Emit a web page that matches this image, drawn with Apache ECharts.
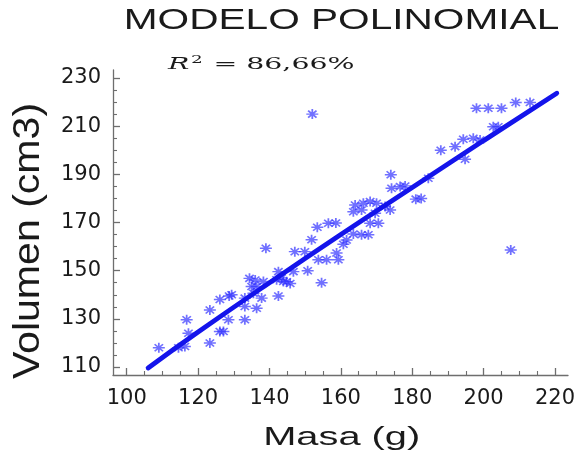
<!DOCTYPE html>
<html>
<head>
<meta charset="utf-8">
<script src="https://cdn.jsdelivr.net/npm/echarts@6/dist/echarts.min.js"></script>
<style>
html,body{margin:0;padding:0;background:#fff;}
#chart{width:581px;height:461px;}
</style>
</head>
<body>
<div id="chart"></div>
<script>
// ---- data ----
var massX = [109,114.5,116.3,116.8,117.3,123.3,123.3,126.1,128.7,126.1,127.1,128.5,133.1,133.1,129.4,136.4,133.1,137.8,134.4,136,135,136.4,135.5,138.3,139,142,143.9,142.5,142.5,143.4,144.8,145.8,146.7,147.1,149.9,150.7,151.8,153.4,156.5,158.6,153.7,156,159.3,154.6,152,158.8,160.7,161.6,163.5,165.8,167.7,168.2,170.5,163.5,165.8,169.6,164,166.3,168.2,170,172.4,173.8,174,174.2,176.6,178,181,182.5,184.5,188,192,194.3,197.1,199,194.8,198,201.3,205,209,213,202.7,204.1,207.6];
var volY  = [118,118,118.5,129.6,124,120,133.7,138,139.5,124.7,124.7,129.6,129.6,135.1,140,134.4,138.6,138.6,146.8,146.1,143.4,143.4,140.6,145.5,159.3,146.2,145.5,149.6,139.5,147,145.4,144.7,149.6,157.9,157.9,150,162.8,168,169.7,169.8,154.5,154.5,154.5,145,215,157.3,161,162.7,165.2,164.9,164.9,169.7,169.7,174.5,175.2,173.8,177.3,178,178.7,178,176.6,175.2,189.8,184.2,184.9,185.2,179.7,180,188.4,200,201.5,204.6,205,204.3,196.3,217.4,217.4,217.4,219.8,219.8,209.8,209.8,158.6];
var fitX = [106,120,140,160,180,200,220.5];
var fitY = [109.6,124.5,145,165,184.5,204,223.7];
var xMajor = [100,120,140,160,180,200,220];
var yMajor = [110,130,150,170,190,210,230];
var xMinor = [105,110,115,125,130,135,145,150,155,165,170,175,185,190,195,205,210,215];
var yMinor = [115,120,125,135,140,145,155,160,165,175,180,185,195,200,205,215,220,225];
var titleText = 'MODELO POLINOMIAL';
var xName = 'Masa (g)';
var yName = 'Volumen (cm3)';

var scatterData = massX.map(function(v,i){return [v, volY[i]];});
var fitData = fitX.map(function(v,i){return [v, fitY[i]];});

var axisColor = '#6e6e6e';
var labelFont = {fontFamily:'DejaVu Sans', fontSize:21, color:'#1a1a1a'};
var xMin = 96.16, xMax = 223.64, yMin = 106.68, yMax = 233.32;

var chart = echarts.init(document.getElementById('chart'), null, {renderer:'canvas'});
var option = {
  backgroundColor:'#ffffff',
  animation:false,
  grid:{left:113, right:13, top:70, bottom:86, containLabel:false, outerBoundsMode:'none'},
  xAxis:[{
    type:'value', min:xMin, max:xMax, position:'bottom',
    axisLine:{show:true, lineStyle:{color:axisColor, width:1.3}},
    axisTick:{show:true, inside:true, length:7, customValues:xMajor, lineStyle:{color:axisColor, width:1.3}},
    axisLabel:Object.assign({show:true, margin:13, customValues:xMajor}, labelFont),
    splitLine:{show:false}
  },{
    type:'value', min:xMin, max:xMax, position:'bottom', gridIndex:0,
    axisLine:{show:false},
    axisTick:{show:true, inside:true, length:4, customValues:xMinor, lineStyle:{color:axisColor, width:1.1}},
    axisLabel:{show:false},
    splitLine:{show:false}
  }],
  yAxis:[{
    type:'value', min:yMin, max:yMax, position:'left',
    axisLine:{show:true, lineStyle:{color:axisColor, width:1.3}},
    axisTick:{show:true, inside:true, length:7, customValues:yMajor, lineStyle:{color:axisColor, width:1.3}},
    axisLabel:Object.assign({show:true, margin:12, customValues:yMajor}, labelFont),
    splitLine:{show:false}
  },{
    type:'value', min:yMin, max:yMax, position:'left', gridIndex:0,
    axisLine:{show:false},
    axisTick:{show:true, inside:true, length:4, customValues:yMinor, lineStyle:{color:axisColor, width:1.1}},
    axisLabel:{show:false},
    splitLine:{show:false}
  }],
  graphic:[
    {type:'text', x:341.5, y:21, scaleX:1.40, scaleY:1,
      style:{text:titleText, font:'29px "Liberation Sans", Arial, sans-serif', fill:'#1a1a1a',
        align:'center', verticalAlign:'middle', textAlign:'center', textVerticalAlign:'middle'}},
    {type:'text', x:168, y:65, scaleX:1.67, scaleY:1,
      style:{text:'{r|R}{s|2}{n| = 86,66%}', fill:'#1a1a1a', align:'left', verticalAlign:'middle', textAlign:'left', textVerticalAlign:'middle',
        rich:{
          r:{fontFamily:'DejaVu Serif', fontStyle:'italic', fontSize:17, lineHeight:20, fill:'#1a1a1a'},
          s:{fontFamily:'DejaVu Serif', fontSize:11, lineHeight:20, verticalAlign:'top', fill:'#1a1a1a', padding:[0,1,0,1]},
          n:{fontFamily:'DejaVu Serif', fontSize:17, lineHeight:20, fill:'#1a1a1a'}
        }}},
    {type:'text', x:341.7, y:438, scaleX:1.53, scaleY:1,
      style:{text:xName, font:'26px "Liberation Sans", Arial, sans-serif', fill:'#1a1a1a',
        align:'center', verticalAlign:'middle', textAlign:'center', textVerticalAlign:'middle'}},
    {type:'text', x:29, y:241, rotation:Math.PI/2, scaleX:1.11, scaleY:1,
      style:{text:yName, font:'37px "Liberation Sans", Arial, sans-serif', fill:'#1a1a1a',
        align:'center', verticalAlign:'middle', textAlign:'center', textVerticalAlign:'middle'}}
  ],
  series:[{
    type:'scatter', xAxisIndex:0, yAxisIndex:0, data:scatterData,
    symbol:'path://M5,0L5,10M0,5L10,5M1.5,1.5L8.5,8.5M1.5,8.5L8.5,1.5',
    symbolSize:[12,10],
    itemStyle:{color:'rgba(0,0,0,0)', borderColor:'rgba(45,45,255,0.85)', borderWidth:1.6},
    z:2
  },{
    type:'line', xAxisIndex:0, yAxisIndex:0, data:fitData, smooth:true, showSymbol:false, symbol:'none',
    lineStyle:{color:'rgb(20,20,235)', width:4.8, cap:'round'},
    z:3
  }]
};
chart.setOption(option);
</script>
</body>
</html>
